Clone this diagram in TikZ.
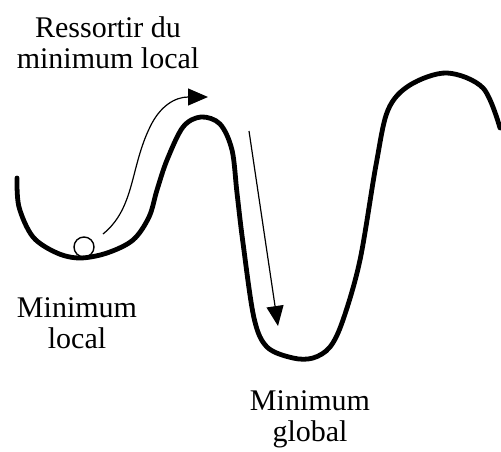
\documentclass[tikz,border=0pt]{standalone}
\usepackage{fontspec}
\setmainfont{Liberation Serif}
\usetikzlibrary{arrows.meta}
\begin{document}
\begin{tikzpicture}[x=1pt,y=-1pt,
  landscape/.style={line width=4.8pt,line cap=round,line join=round},
  thinarrow/.style={line width=1.2pt,-{Triangle[length=20pt,width=17pt]}},
  lbl/.style={font=\fontsize{30}{31}\selectfont,align=center,inner sep=0pt}]
\useasboundingbox (0,0) rectangle (501,452);
% energy landscape
\draw[landscape] plot[smooth,tension=0.55] coordinates {
 (17,178) (19,207) (33,237) (57,253) (80,258) (107,253) (133,240) (149,217)
 (157,190) (167,160) (183,127) (201,117) (220,124) (232,150) (237,193)
 (243,243) (254,318) (267,347) (293,358) (313,358) (330,347) (343,320)
 (360,260) (376,165) (388,110) (410,85) (447,73) (483,88) (500,128)};
% ball
\node[draw,circle,line width=1.4pt,minimum size=20pt,inner sep=0pt] (ball) at (84,247) {};
% arrows
\coordinate (a1s) at (103,234);
\coordinate (a1e) at (208,97);
\draw[thinarrow] (a1s) .. controls (135,208) and (130,168) .. (150,127)
  .. controls (160,106) and (175,97) .. (a1e);
\coordinate (a2s) at (249,131);
\coordinate (a2e) at (278,326);
\draw[thinarrow] (a2s) -- (a2e);
% labels
\node[lbl] (t1) at (108,43) {Ressortir du\\minimum local};
\node[lbl] (t2) at (77,323) {Minimum\\local};
\node[lbl] (t3) at (310,419) {Minimum\\global};
\end{tikzpicture}
\end{document}
